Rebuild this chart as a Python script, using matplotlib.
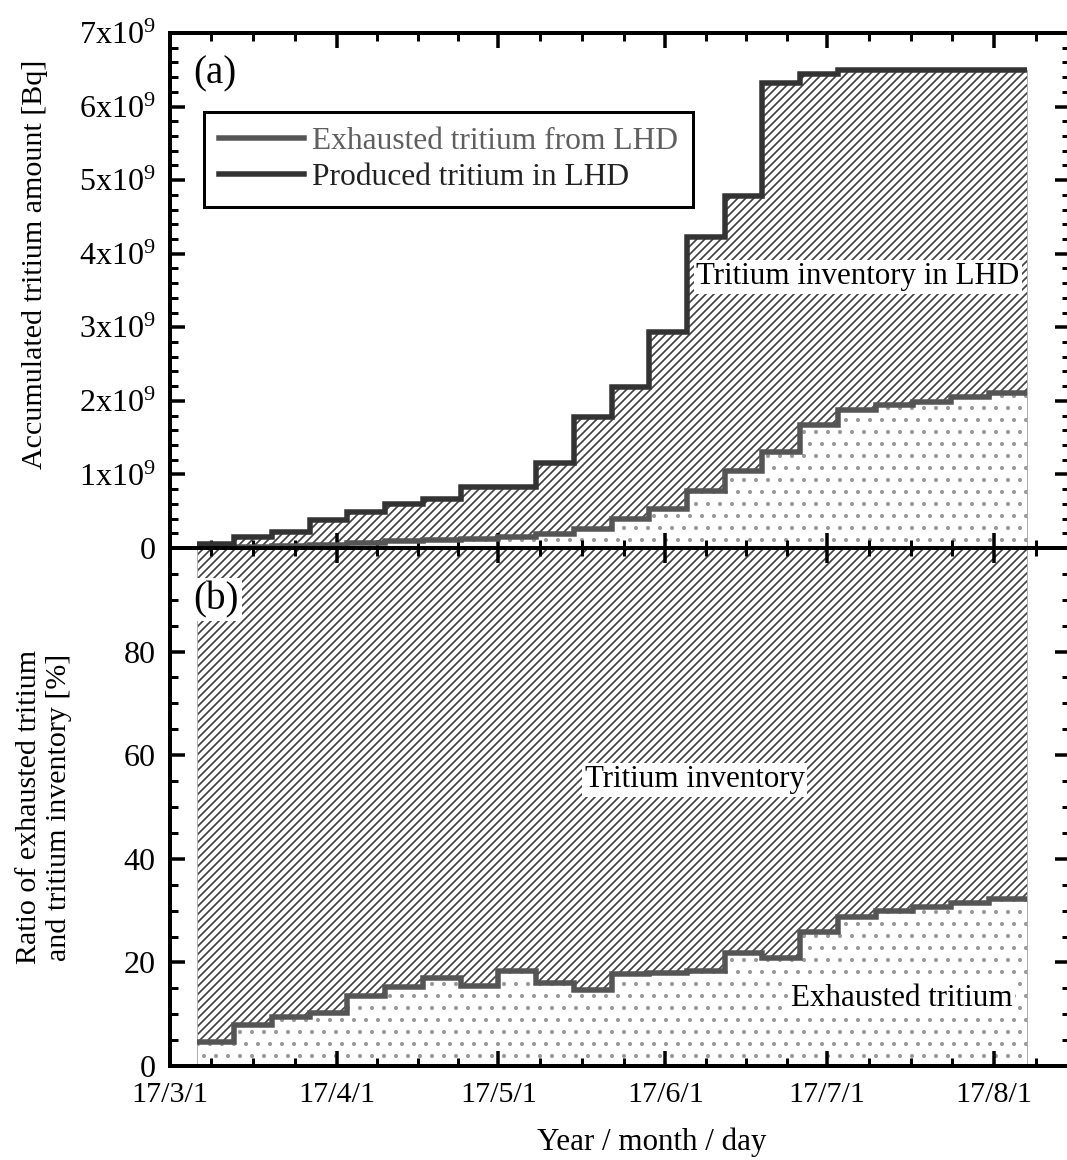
import numpy as np
import matplotlib
matplotlib.use("Agg")
import matplotlib.pyplot as plt
import matplotlib.dates as mdates
from matplotlib.lines import Line2D

plt.rcParams["font.family"] = ["Liberation Serif", "DejaVu Serif"]
plt.rcParams["mathtext.fontset"] = "custom"
plt.rcParams["mathtext.rm"] = "Liberation Serif"
plt.rcParams["mathtext.it"] = "Liberation Serif:italic"
plt.rcParams["hatch.linewidth"] = 1.7

# weekly bins (Mondays), one value per week
EDGES = ["2017-03-06", "2017-03-13", "2017-03-20", "2017-03-27", "2017-04-03",
         "2017-04-10", "2017-04-17", "2017-04-24", "2017-05-01", "2017-05-08",
         "2017-05-15", "2017-05-22", "2017-05-29", "2017-06-05", "2017-06-12",
         "2017-06-19", "2017-06-26", "2017-07-03", "2017-07-10", "2017-07-17",
         "2017-07-24", "2017-07-31", "2017-08-07"]
# accumulated amounts, 10^9 Bq
PRODUCED = [0.054, 0.154, 0.22, 0.38, 0.49, 0.60, 0.66, 0.83, 0.83, 1.15, 1.78,
            2.19, 2.94, 4.23, 4.78, 6.32, 6.44, 6.50, 6.50, 6.50, 6.50, 6.50]
EXHAUSTED = [0.003, 0.012, 0.021, 0.039, 0.066, 0.092, 0.112, 0.128, 0.152, 0.184,
             0.26, 0.39, 0.53, 0.78, 1.04, 1.31, 1.67, 1.87, 1.94, 1.99, 2.05, 2.10]
# exhausted share, %
RATIO = [4.7, 7.9, 9.5, 10.2, 13.5, 15.3, 17.0, 15.4, 18.3, 16.0, 14.7, 17.7,
         18.0, 18.4, 21.8, 20.8, 25.8, 28.7, 29.9, 30.6, 31.5, 32.3]

XTICK_DATES = ["2017-03-01", "2017-04-01", "2017-05-01", "2017-06-01",
               "2017-07-01", "2017-08-01", "2017-09-01"]
XTICK_LABELS = ["17/3/1", "17/4/1", "17/5/1", "17/6/1", "17/7/1", "17/8/1", ""]
YTICKS_A = [0, 1, 2, 3, 4, 5, 6, 7]
YTICK_LABELS_A = ["0"] + [f"{v}x10$^{{9}}$" for v in YTICKS_A[1:]]
YTICKS_B = [0, 20, 40, 60, 80]

C_PROD = "#333333"
C_EXH = "#555555"
C_HATCH = "#404040"
C_DOT = "#9a9a9a"
C_EDGE = "#b0b0b0"
FS = 30

x = mdates.date2num(np.array(EDGES, dtype="datetime64[D]"))
xmaj = mdates.date2num(np.array(XTICK_DATES, dtype="datetime64[D]"))
xmin = np.concatenate([a + (b - a) * np.array([0.25, 0.5, 0.75])
                       for a, b in zip(xmaj[:-1], xmaj[1:])])
xlim = mdates.date2num(np.array(["2017-03-01", "2017-08-15"], dtype="datetime64[D]"))


def region(ax, lo, hi, hatch, color):
    lo = np.append(lo, lo[-1])
    hi = np.append(hi, hi[-1])
    ax.fill_between(x, lo, hi, step="post", facecolor="white", edgecolor=color,
                    hatch=hatch, linewidth=0, zorder=1)
    ax.fill_between(x, lo, hi, step="post", facecolor="none", edgecolor=C_EDGE,
                    linewidth=1.0, zorder=1.5)


def style(ax):
    for s in ax.spines.values():
        s.set_linewidth(4)
    ax.tick_params(which="both", direction="in", top=True, right=True)
    ax.tick_params(which="major", length=15, width=3.5)
    ax.tick_params(which="minor", length=8, width=3)
    ax.tick_params(axis="y", pad=14, labelsize=32)
    ax.tick_params(axis="x", pad=16, labelsize=FS)
    ax.set_xticks(xmaj)
    ax.set_xticks(xmin, minor=True)
    ax.set_xlim(xlim)


fig = plt.figure(figsize=(1067 / 72, 1160 / 72), dpi=72)
L, W = 169.6 / 1067, 900.1 / 1067
ax_a = fig.add_axes([L, 1 - 548 / 1160, W, 515 / 1160])
ax_b = fig.add_axes([L, 1 - 1066 / 1160, W, 518 / 1160])

# (a) accumulated amounts
region(ax_a, np.zeros(len(EXHAUSTED)), EXHAUSTED, ".", C_DOT)
region(ax_a, EXHAUSTED, PRODUCED, "///", C_HATCH)
ax_a.stairs(EXHAUSTED, x, baseline=None, color=C_EXH, lw=5.5, zorder=3)
ax_a.stairs(PRODUCED, x, baseline=None, color=C_PROD, lw=5.5, zorder=3)
style(ax_a)
ax_a.set_ylim(0, 7)
ax_a.set_yticks(YTICKS_A)
ax_a.set_yticklabels(YTICK_LABELS_A)
ax_a.set_yticks(np.arange(0, 7.01, 0.2), minor=True)
ax_a.set_xticklabels([])

handles = [Line2D([], [], color=C_EXH, lw=5.5), Line2D([], [], color=C_PROD, lw=5.5)]
leg = ax_a.legend(handles, ["Exhausted tritium from LHD", "Produced tritium in LHD"],
                  loc="upper left", bbox_to_anchor=(0.0382, 0.8466), borderaxespad=0,
                  fancybox=False, edgecolor="black", framealpha=1, fontsize=31.5,
                  handlelength=2.7, handletextpad=0.25, borderpad=0.48,
                  labelspacing=0.22)
leg.get_frame().set_linewidth(3)
leg.get_texts()[0].set_color("#5f5f5f")
leg.get_texts()[1].set_color("#222222")

box = dict(facecolor="white", edgecolor="none", boxstyle="square,pad=0.08")
ax_a.text(0.0260, 0.920, "(a)", transform=ax_a.transAxes, fontsize=39,
          ha="left", va="center")
ax_a.text(0.7647, 0.527, "Tritium inventory in LHD", transform=ax_a.transAxes,
          fontsize=31, ha="center", va="center", bbox=box, zorder=4)

# (b) ratio
region(ax_b, np.zeros(len(RATIO)), RATIO, ".", C_DOT)
region(ax_b, RATIO, np.full(len(RATIO), 100.0), "///", C_HATCH)
ax_b.stairs(RATIO, x, baseline=None, color=C_EXH, lw=5.5, zorder=3)
style(ax_b)
ax_b.set_ylim(0, 100)
ax_b.set_yticks(YTICKS_B)
ax_b.set_yticks(np.arange(0, 100.1, 5), minor=True)
ax_b.set_xticklabels(XTICK_LABELS)

ax_b.text(0.0260, 0.900, "(b)", transform=ax_b.transAxes, fontsize=39,
          ha="left", va="center", bbox=box, zorder=4)
ax_b.text(0.5832, 0.553, "Tritium inventory", transform=ax_b.transAxes,
          fontsize=31, ha="center", va="center", bbox=box, zorder=4)
ax_b.text(0.8131, 0.130, "Exhausted tritium", transform=ax_b.transAxes,
          fontsize=31, ha="center", va="center", bbox=box, zorder=4)

fig.text(35 / 1067, 1 - 264 / 1160, "Accumulated tritium amount [Bq]",
         rotation=90, ha="center", va="center", fontsize=FS)
fig.text(44 / 1067, 1 - 807 / 1160, "Ratio of exhausted tritium\nand tritium inventory [%]",
         rotation=90, ha="center", va="center", multialignment="center", fontsize=FS)
fig.text(652 / 1067, 1 - 1142 / 1160, "Year / month / day",
         ha="center", va="center", fontsize=31)

fig.savefig("out.png", dpi=72)
